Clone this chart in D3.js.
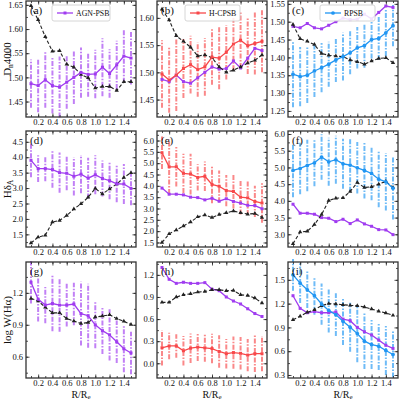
<!DOCTYPE html>
<html>
<head>
<meta charset="utf-8">
<script src="https://cdn.jsdelivr.net/npm/d3@7"></script>
<style>
  body { margin: 0; background: #fff; }
  svg text { font-family: "Liberation Serif", "DejaVu Serif", serif; fill: #111; }
</style>
</head>
<body>
<svg id="fig" width="400" height="399"></svg>
<script>
//---- Data -------------------------------------------------------------------
var radius = [0.1, 0.2, 0.3, 0.4, 0.5, 0.6, 0.7, 0.8, 0.9, 1.0, 1.1, 1.2, 1.3, 1.4, 1.5];
var xTicks = [0.2, 0.4, 0.6, 0.8, 1.0, 1.2, 1.4];

// AGN-PSB (purple)
var agn_d4000 = [1.487, 1.483, 1.495, 1.483, 1.480, 1.490, 1.500, 1.510, 1.506, 1.507, 1.521, 1.508, 1.526, 1.544, 1.540];
var agn_d4000_err = [0.050, 0.055, 0.058, 0.058, 0.063, 0.055, 0.055, 0.052, 0.046, 0.050, 0.060, 0.050, 0.050, 0.055, 0.055];
var agn_hda = [3.90, 3.63, 3.63, 3.60, 3.50, 3.48, 3.38, 3.45, 3.32, 3.43, 3.31, 3.24, 3.14, 3.13, 2.99];
var agn_hda_err = [0.55, 0.43, 0.41, 0.59, 0.65, 0.55, 0.62, 0.62, 0.66, 0.63, 0.58, 0.60, 0.60, 0.65, 0.55];
var agn_ha = [1.30, 1.14, 1.085, 1.10, 1.085, 1.085, 1.095, 1.005, 0.985, 0.90, 0.845, 0.805, 0.74, 0.675, 0.635];
var agn_ha_err = [0.20, 0.21, 0.17, 0.26, 0.25, 0.20, 0.20, 0.30, 0.30, 0.22, 0.22, 0.24, 0.20, 0.22, 0.20];

// H-CPSB (red)
var hc_d4000 = [1.497, 1.486, 1.495, 1.507, 1.514, 1.505, 1.510, 1.528, 1.526, 1.537, 1.552, 1.559, 1.549, 1.553, 1.557];
var hc_d4000_err = [0.062, 0.060, 0.066, 0.054, 0.053, 0.050, 0.053, 0.051, 0.057, 0.050, 0.048, 0.051, 0.052, 0.057, 0.057];
var hc_hda = [5.46, 4.84, 4.84, 4.55, 4.52, 4.37, 4.42, 4.06, 3.98, 3.79, 3.75, 3.50, 3.47, 3.31, 3.24];
var hc_hda_err = [0.72, 1.20, 0.87, 0.87, 0.90, 0.58, 0.65, 0.83, 0.70, 0.69, 0.75, 0.76, 0.76, 0.69, 0.87];
var hc_ha = [0.21, 0.235, 0.235, 0.17, 0.205, 0.22, 0.21, 0.20, 0.16, 0.13, 0.145, 0.135, 0.11, 0.13, 0.13];
var hc_ha_err = [0.24, 0.18, 0.16, 0.20, 0.20, 0.19, 0.19, 0.20, 0.22, 0.20, 0.22, 0.22, 0.22, 0.25, 0.24];

// RPSB (blue)
var rp_d4000 = [1.353, 1.346, 1.350, 1.362, 1.371, 1.381, 1.393, 1.402, 1.413, 1.427, 1.433, 1.450, 1.453, 1.469, 1.489];
var rp_d4000_err = [0.093, 0.083, 0.078, 0.073, 0.069, 0.063, 0.062, 0.067, 0.060, 0.058, 0.062, 0.053, 0.060, 0.065, 0.058];
var rp_hda = [4.91, 4.97, 5.06, 5.14, 5.31, 5.17, 5.23, 5.11, 5.07, 4.99, 4.91, 4.82, 4.65, 4.57, 4.38];
var rp_hda_err = [0.80, 0.77, 0.77, 0.70, 0.68, 0.72, 0.72, 0.75, 0.80, 0.77, 0.84, 0.80, 0.84, 0.86, 0.94];
var rp_ha = [1.563, 1.458, 1.374, 1.300, 1.195, 1.115, 1.061, 0.977, 0.902, 0.822, 0.726, 0.684, 0.663, 0.609, 0.559];
var rp_ha_err = [0.20, 0.25, 0.23, 0.24, 0.26, 0.28, 0.27, 0.30, 0.31, 0.36, 0.35, 0.31, 0.30, 0.31, 0.29];

// control samples (black dashed), one per panel
var ctl_a = [1.648, 1.619, 1.584, 1.554, 1.555, 1.527, 1.521, 1.506, 1.499, 1.478, 1.481, 1.481, 1.473, 1.491, 1.491];
var ctl_b = [1.616, 1.596, 1.567, 1.557, 1.546, 1.530, 1.532, 1.527, 1.510, 1.500, 1.504, 1.510, 1.517, 1.522, 1.532];
var ctl_c = [1.492, 1.452, 1.445, 1.436, 1.411, 1.406, 1.404, 1.402, 1.393, 1.388, 1.381, 1.390, 1.397, 1.399, 1.385];
var ctl_d = [1.22, 1.41, 1.47, 1.90, 1.95, 2.11, 2.32, 2.49, 2.70, 2.99, 2.81, 2.97, 3.13, 3.34, 3.50];
var ctl_e = [1.50, 1.88, 2.05, 2.23, 2.40, 2.63, 2.71, 2.60, 2.73, 2.81, 2.89, 2.81, 2.75, 2.78, 2.60];
var ctl_f = [2.72, 3.07, 3.09, 3.29, 3.59, 4.01, 4.08, 4.09, 4.28, 4.55, 4.40, 4.42, 4.50, 4.58, 4.40];
var ctl_g = [1.148, 1.124, 1.064, 1.012, 1.012, 0.958, 0.936, 0.912, 0.921, 0.973, 0.982, 0.994, 0.958, 0.933, 0.903];
var ctl_h = [0.827, 0.827, 0.899, 0.930, 0.944, 0.966, 0.975, 0.998, 0.998, 0.984, 0.989, 0.930, 0.921, 0.885, 0.818];
var ctl_i = [0.998, 1.040, 1.090, 1.123, 1.174, 1.200, 1.195, 1.186, 1.178, 1.174, 1.157, 1.132, 1.103, 1.082, 1.052];

// y tick labels per panel
var ticks_a = [1.45, 1.50, 1.55, 1.60, 1.65];
var ticks_b = [1.45, 1.50, 1.55, 1.60];
var ticks_c = [1.25, 1.30, 1.35, 1.40, 1.45, 1.50, 1.55];
var ticks_d = [1.5, 2.0, 2.5, 3.0, 3.5, 4.0, 4.5];
var ticks_e = [1.5, 2.0, 2.5, 3.0, 3.5, 4.0, 4.5, 5.0, 5.5, 6.0];
var ticks_f = [3.0, 3.5, 4.0, 4.5, 5.0, 5.5, 6.0];
var ticks_g = [0.6, 0.9, 1.2];
var ticks_h = [0.0, 0.3, 0.6, 0.9, 1.2];
var ticks_i = [0.3, 0.6, 0.9, 1.2, 1.5];

var sampleNames = ["AGN-PSB", "H-CPSB", "RPSB"];

//---- Styles & layout --------------------------------------------------------
var purple = "#a03cf0", red = "#f8484a", blue = "#2196f3";
var colors = [purple, red, blue];
var colLeft = [26, 157, 288], rowTop = [1, 131, 262];
var pw = 110, ph = 116;

var panels = [
  { tag: "(a)", col: 0, row: 0, s: 0, y: agn_d4000, e: agn_d4000_err, ov: null, ctl: ctl_a, ticks: ticks_a, dom: [1.418, 1.658], fmt: ".2f" },
  { tag: "(b)", col: 1, row: 0, s: 1, y: hc_d4000, e: hc_d4000_err, ov: agn_d4000, ctl: ctl_b, ticks: ticks_b, dom: [1.418, 1.631], fmt: ".2f" },
  { tag: "(c)", col: 2, row: 0, s: 2, y: rp_d4000, e: rp_d4000_err, ov: agn_d4000, ctl: ctl_c, ticks: ticks_c, dom: [1.233, 1.558], fmt: ".2f" },
  { tag: "(d)", col: 0, row: 1, s: 0, y: agn_hda, e: agn_hda_err, ov: null, ctl: ctl_d, ticks: ticks_d, dom: [1.09, 4.85], fmt: ".1f" },
  { tag: "(e)", col: 1, row: 1, s: 1, y: hc_hda, e: hc_hda_err, ov: agn_hda, ctl: ctl_e, ticks: ticks_e, dom: [1.30, 6.42], fmt: ".1f" },
  { tag: "(f)", col: 2, row: 1, s: 2, y: rp_hda, e: rp_hda_err, ov: agn_hda, ctl: ctl_f, ticks: ticks_f, dom: [2.62, 6.09], fmt: ".1f" },
  { tag: "(g)", col: 0, row: 2, s: 0, y: agn_ha, e: agn_ha_err, ov: null, ctl: ctl_g, ticks: ticks_g, dom: [0.40, 1.49], fmt: ".1f" },
  { tag: "(h)", col: 1, row: 2, s: 1, y: hc_ha, e: hc_ha_err, ov: agn_ha, ctl: ctl_h, ticks: ticks_h, dom: [-0.20, 1.375], fmt: ".1f" },
  { tag: "(i)", col: 2, row: 2, s: 2, y: rp_ha, e: rp_ha_err, ov: agn_ha, ctl: ctl_i, ticks: ticks_i, dom: [0.262, 1.725], fmt: ".1f" }
];

var svg = d3.select("#fig");
var x = d3.scaleLinear().domain([0.03, 1.57]).range([0, pw]);
var tri = d3.symbol().type(d3.symbolTriangle).size(8);
var sq = d3.symbol().type(d3.symbolSquare).size(9);
var circ = d3.symbol().type(d3.symbolCircle).size(11);
var markerFor = [sq, sq, circ];

function drawSeries(g, y, vals, color, marker, dashed) {
  var line = d3.line().x(function (d, i) { return x(radius[i]); }).y(function (d) { return y(d); });
  g.append("path").datum(vals)
    .attr("d", line)
    .attr("fill", "none")
    .attr("stroke", color)
    .attr("stroke-width", dashed ? 1.1 : 1.3)
    .attr("stroke-dasharray", dashed ? "3.5,2" : null);
  g.selectAll(null).data(vals).enter().append("path")
    .attr("d", marker)
    .attr("transform", function (d, i) { return "translate(" + x(radius[i]) + "," + y(d) + ")"; })
    .attr("fill", color);
}

panels.forEach(function (p) {
  var g = svg.append("g").attr("transform", "translate(" + colLeft[p.col] + "," + rowTop[p.row] + ")");
  var y = d3.scaleLinear().domain(p.dom).range([ph, 0]);
  var color = colors[p.s];

  // error bars (dash-dot)
  g.selectAll(null).data(p.y).enter().append("line")
    .attr("x1", function (d, i) { return x(radius[i]); })
    .attr("x2", function (d, i) { return x(radius[i]); })
    .attr("y1", function (d, i) { return y(d - p.e[i]); })
    .attr("y2", function (d, i) { return y(d + p.e[i]); })
    .attr("stroke", color)
    .attr("stroke-opacity", 0.65)
    .attr("stroke-width", 2)
    .attr("stroke-dasharray", "5,1.5,1.5,1.5");

  if (p.ov) drawSeries(g, y, p.ov, purple, sq, false);
  drawSeries(g, y, p.ctl, "#222", tri, true);
  drawSeries(g, y, p.y, color, markerFor[p.s], false);

  // axes, ticks inward on all sides
  var minorY = [];
  var step = p.ticks[1] - p.ticks[0];
  for (var v = p.ticks[0] - step * 2; v <= p.dom[1]; v += step / 2) {
    if (v >= p.dom[0]) minorY.push(v);
  }
  var minorX = d3.range(0.1, 1.55, 0.1);
  g.append("g").call(d3.axisLeft(y).tickValues(p.ticks).tickFormat(d3.format(p.fmt)).tickSizeInner(-3.5).tickSizeOuter(0).tickPadding(3));
  g.append("g").call(d3.axisLeft(y).tickValues(minorY).tickFormat("").tickSizeInner(-2).tickSizeOuter(0));
  g.append("g").attr("transform", "translate(" + pw + ",0)").call(d3.axisRight(y).tickValues(p.ticks).tickFormat("").tickSizeInner(-3.5).tickSizeOuter(0));
  g.append("g").attr("transform", "translate(" + pw + ",0)").call(d3.axisRight(y).tickValues(minorY).tickFormat("").tickSizeInner(-2).tickSizeOuter(0));
  g.append("g").attr("transform", "translate(0," + ph + ")").call(d3.axisBottom(x).tickValues(xTicks).tickFormat(d3.format(".1f")).tickSizeInner(-3.5).tickSizeOuter(0).tickPadding(1.5));
  g.append("g").attr("transform", "translate(0," + ph + ")").call(d3.axisBottom(x).tickValues(minorX).tickFormat("").tickSizeInner(-2).tickSizeOuter(0));
  g.append("g").call(d3.axisTop(x).tickValues(xTicks).tickFormat("").tickSizeInner(-3.5).tickSizeOuter(0));
  g.append("g").call(d3.axisTop(x).tickValues(minorX).tickFormat("").tickSizeInner(-2).tickSizeOuter(0));
  g.selectAll(".domain").remove();
  g.selectAll(".tick line").attr("stroke", "#222").attr("stroke-width", 0.8);
  g.selectAll(".tick text").attr("font-size", 8.5).attr("font-family", "Liberation Serif, DejaVu Serif, serif").attr("fill", "#111");

  g.append("rect").attr("width", pw).attr("height", ph)
    .attr("fill", "none").attr("stroke", "#333").attr("stroke-width", 1.3);

  g.append("text").attr("x", 4).attr("y", 13).attr("font-size", 11).text(p.tag);

  if (p.row === 0) {
    var lx = [26, 28, 32][p.col], lw = [58, 55, 55][p.col];
    var lg = g.append("g").attr("transform", "translate(" + lx + ",4)");
    lg.append("rect").attr("width", lw).attr("height", 16).attr("rx", 2)
      .attr("fill", "#fff").attr("fill-opacity", 0.85).attr("stroke", "#ccc").attr("stroke-width", 0.8);
    lg.append("line").attr("x1", 5).attr("x2", 21).attr("y1", 8).attr("y2", 8)
      .attr("stroke", color).attr("stroke-width", 1.3);
    lg.append("path").attr("d", markerFor[p.s]).attr("transform", "translate(13,8)").attr("fill", color);
    lg.append("text").attr("x", 24).attr("y", 11).attr("font-size", 7.8).text(sampleNames[p.s]);
  }
});

// axis titles
function yTitle(row, parts) {
  var cy = rowTop[row] + ph / 2;
  var t = svg.append("text").attr("transform", "translate(10.5," + cy + ") rotate(-90)")
    .attr("text-anchor", "middle").attr("font-size", 11);
  parts.forEach(function (pt) {
    var ts = t.append("tspan").text(pt[0]);
    if (pt[1] === "sub") ts.attr("font-size", 7.5).attr("dy", 2);
    if (pt[1] === "up") ts.attr("dy", -2);
  });
}
yTitle(0, [["D"], ["n", "sub"], ["4000", "up"]]);
yTitle(1, [["Hδ"], ["A", "sub"]]);
yTitle(2, [["log W(Hα)"]]);

colLeft.forEach(function (cx) {
  var t = svg.append("text").attr("x", cx + pw / 2).attr("y", 397.5).attr("text-anchor", "middle").attr("font-size", 10);
  t.append("tspan").text("R/R");
  t.append("tspan").text("e").attr("font-size", 7).attr("dy", 1);
});
</script>
</body>
</html>
